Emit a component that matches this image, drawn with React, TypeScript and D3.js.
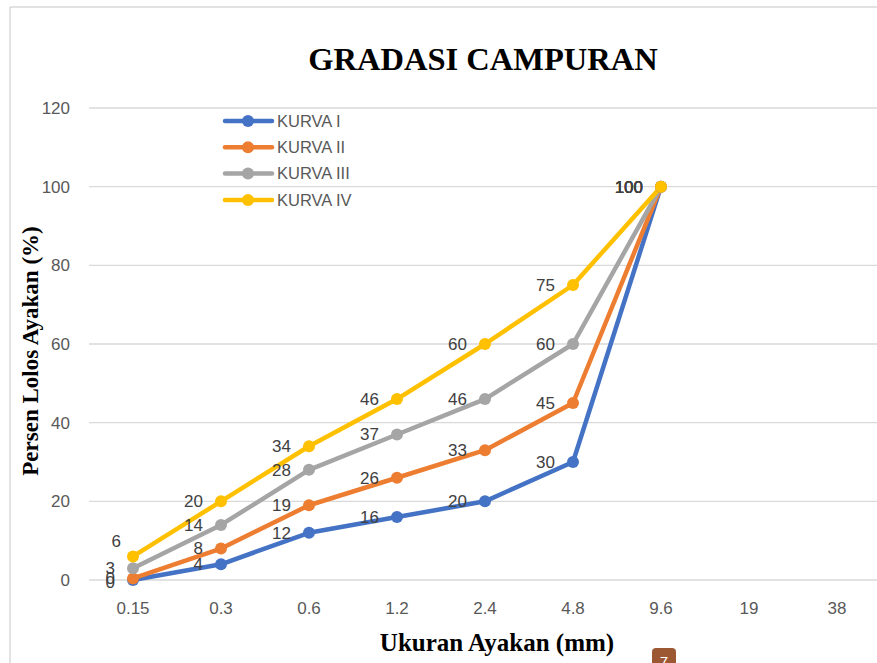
import React from "react";
import * as d3 from "d3";

const categories = ["0.15", "0.3", "0.6", "1.2", "2.4", "4.8", "9.6", "19", "38"];
const seriesNames = ["KURVA I", "KURVA II", "KURVA III", "KURVA IV"];
const kurva1 = [0, 4, 12, 16, 20, 30, 100];
const kurva2 = [0.4, 8, 19, 26, 33, 45, 100];
const kurva3 = [3, 14, 28, 37, 46, 60, 100];
const kurva4 = [6, 20, 34, 46, 60, 75, 100];
const yTicks = [0, 20, 40, 60, 80, 100, 120];
const colors = ["#4472C4", "#ED7D31", "#A5A5A5", "#FFC000"];

const W = 877;
const H = 663;

export default function App() {
  const x = d3.scalePoint<string>().domain(categories).range([133, 837]);
  const y = d3.scaleLinear().domain([0, 120]).range([580, 108]);
  const series = [kurva1, kurva2, kurva3, kurva4];
  const line = d3
    .line<number>()
    .x((_, i) => x(categories[i]) as number)
    .y((d) => y(d));
  const fmt = d3.format(".0f");
  const labelFont = "'Liberation Sans', Arial, sans-serif";
  const serif = "'Liberation Serif', 'Times New Roman', serif";
  const tickSize = 17;

  return (
    <svg
      width={W}
      height={H}
      style={{ position: "absolute", left: 0, top: 0, background: "#fff" }}
    >
      <rect x={0} y={0} width={W} height={H} fill="#fff" />
      {/* border */}
      <line x1={10} x2={W} y1={7} y2={7} stroke="#d9d9d9" strokeWidth={1.5} />
      <line x1={10} x2={10} y1={7} y2={H} stroke="#d9d9d9" strokeWidth={1.5} />

      {/* title */}
      <text
        x={483}
        y={70}
        textAnchor="middle"
        fontFamily={serif}
        fontWeight="bold"
        fontSize={32.5}
        fill="#000"
      >
        GRADASI CAMPURAN
      </text>

      {/* gridlines + y ticks */}
      {yTicks.map((t) => (
        <g key={t}>
          <line x1={89} x2={W} y1={y(t)} y2={y(t)} stroke="#d9d9d9" strokeWidth={1.3} />
          <text
            x={70}
            y={y(t)}
            dy="0.35em"
            textAnchor="end"
            fontFamily={labelFont}
            fontSize={tickSize}
            fill="#595959"
          >
            {t}
          </text>
        </g>
      ))}

      {/* x ticks */}
      {categories.map((c) => (
        <text
          key={c}
          x={x(c)}
          y={614}
          textAnchor="middle"
          fontFamily={labelFont}
          fontSize={tickSize}
          fill="#595959"
        >
          {c}
        </text>
      ))}

      {/* axis titles */}
      <text
        x={497}
        y={651}
        textAnchor="middle"
        fontFamily={serif}
        fontWeight="bold"
        fontSize={25}
        fill="#000"
      >
        Ukuran Ayakan (mm)
      </text>
      <text
        transform={`translate(38,351) rotate(-90)`}
        textAnchor="middle"
        fontFamily={serif}
        fontWeight="bold"
        fontSize={23}
        fill="#000"
      >
        Persen Lolos Ayakan (%)
      </text>

      {/* lines */}
      {series.map((s, si) => (
        <path
          key={si}
          d={line(s) as string}
          fill="none"
          stroke={colors[si]}
          strokeWidth={4.5}
          strokeLinejoin="round"
        />
      ))}
      {series.map((s, si) =>
        s.map((v, i) => (
          <circle
            key={`${si}-${i}`}
            cx={x(categories[i])}
            cy={y(v)}
            r={6}
            fill={colors[si]}
          />
        ))
      )}

      {/* data labels */}
      {series.map((s, si) =>
        s.map((v, i) => {
          const special = si === 3 && i === 0;
          return (
            <text
              key={`l${si}-${i}`}
              x={(x(categories[i]) as number) - (special ? 12 : 18)}
              y={y(v) + (special ? -15 : si === 0 && i === 0 ? 2 : 0)}
              dy="0.35em"
              textAnchor="end"
              fontFamily={labelFont}
              fontSize={tickSize}
              fill="#404040"
            >
              {fmt(v)}
            </text>
          );
        })
      )}

      {/* legend */}
      {seriesNames.map((n, i) => {
        const ly = 121 + i * 26.3;
        return (
          <g key={n}>
            <line x1={225} x2={272} y1={ly} y2={ly} stroke={colors[i]} strokeWidth={4.5} strokeLinecap="round" />
            <circle cx={248} cy={ly} r={6} fill={colors[i]} />
            <text
              x={277}
              y={ly}
              dy="0.35em"
              fontFamily={labelFont}
              fontSize={16.5}
              fill="#595959"
            >
              {n}
            </text>
          </g>
        );
      })}

      {/* page marker */}
      <rect x={652} y={648} width={24} height={20} rx={4} fill="#9C5733" />
      <text
        x={664}
        y={667}
        textAnchor="middle"
        fontFamily={labelFont}
        fontSize={15}
        fill="#fff"
      >
        7
      </text>
    </svg>
  );
}
